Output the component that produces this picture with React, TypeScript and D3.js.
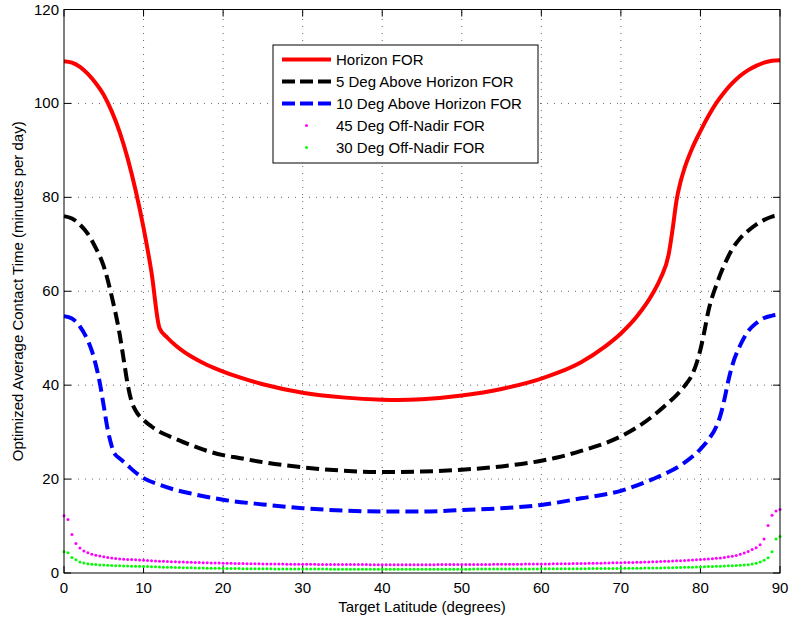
import React from "react";
import * as d3 from "d3";

const xTicks = [0, 10, 20, 30, 40, 50, 60, 70, 80, 90];
const yTicks = [0, 20, 40, 60, 80, 100, 120];

const seriesNames = [
  "Horizon FOR",
  "5 Deg Above Horizon FOR",
  "10 Deg Above Horizon FOR",
  "45 Deg Off-Nadir FOR",
  "30 Deg Off-Nadir FOR",
];

const redLat = [0, 1, 2, 3, 4, 5, 6, 7, 8, 9, 10, 11, 12, 13, 14, 15, 16, 18, 20, 22, 25, 30, 35, 40, 42, 45, 50, 55, 60, 62, 65, 68, 70, 72, 74, 75, 76, 76.5, 77, 77.5, 78, 79, 80, 81, 82, 83, 84, 85, 86, 87, 88, 89, 90];
const redVal = [109.0, 108.7, 107.8, 106.3, 104.3, 101.8, 98.3, 93.9, 88.3, 81.5, 73.5, 64.0, 52.2, 50.1, 48.5, 47.2, 46.1, 44.3, 42.9, 41.7, 40.2, 38.4, 37.4, 36.9, 36.85, 37.0, 37.8, 39.2, 41.4, 42.6, 44.9, 48.2, 51.0, 54.6, 59.5, 62.8, 67.8, 73.2, 79.4, 83.3, 86.2, 90.6, 94.1, 97.3, 100.1, 102.4, 104.3, 105.9, 107.1, 108.0, 108.7, 109.1, 109.2];

const blackLat = [0, 1, 2, 3, 4, 5, 6, 7, 7.5, 8, 8.5, 9, 10, 11, 12, 14, 16, 18, 20, 22, 25, 30, 35, 40, 45, 50, 55, 60, 62, 65, 70, 72, 74, 76, 77, 78, 79, 79.5, 80, 80.5, 81, 81.5, 82, 82.5, 83, 83.5, 84, 85, 86, 87, 88, 89, 90];
const blackVal = [76.0, 75.5, 74.2, 72.2, 69.2, 65.3, 58.9, 50.8, 45.5, 40.2, 36.5, 34.6, 32.6, 31.2, 30.1, 28.6, 27.2, 26.0, 25.1, 24.5, 23.6, 22.5, 21.8, 21.5, 21.6, 22.0, 22.7, 23.9, 24.6, 26.0, 29.1, 31.0, 33.4, 36.3, 37.9, 39.8, 42.4, 44.6, 47.6, 51.5, 55.8, 58.9, 61.3, 63.6, 65.6, 67.4, 69.0, 71.3, 72.9, 74.2, 75.2, 75.9, 76.2];

const blueLat = [0, 1, 2, 3, 3.5, 4, 4.5, 5, 5.5, 6, 6.2, 6.5, 7, 8, 9, 10, 12, 14, 16, 18, 20, 25, 30, 35, 40, 45, 50, 55, 60, 65, 70, 74, 76, 78, 80, 81, 82, 82.5, 83, 83.5, 84, 85, 86, 87, 88, 89, 90];
const blueVal = [54.7, 54.2, 52.5, 49.5, 47.3, 44.3, 40.5, 35.5, 30.5, 27.0, 25.9, 25.1, 24.4, 22.9, 21.4, 20.2, 18.8, 17.7, 16.9, 16.2, 15.6, 14.6, 13.8, 13.3, 13.1, 13.1, 13.4, 13.8, 14.5, 15.9, 17.5, 20.0, 21.5, 23.5, 26.4, 28.4, 31.2, 33.5, 36.9, 40.9, 44.2, 48.5, 51.5, 53.2, 54.3, 54.8, 55.1];

// dot series sampled every 0.5 degrees from 0 to 90
const magentaVal = [
  12.2, 11.4, 8.2, 6.3, 5.3, 4.7, 4.3, 4.0, 3.8, 3.6, 3.45, 3.3, 3.2, 3.1, 3.0, 2.95, 2.9, 2.85, 2.8, 2.75, 2.7,
  2.65, 2.6, 2.56, 2.52, 2.48, 2.45, 2.42, 2.39, 2.36, 2.33, 2.3, 2.27, 2.25, 2.22, 2.2, 2.18, 2.15, 2.13, 2.11, 2.09,
  2.07, 2.05, 2.03, 2.02, 2.0, 1.99, 1.97, 1.96, 1.95, 1.94, 1.93, 1.92, 1.91, 1.9, 1.89, 1.88, 1.87, 1.87, 1.86, 1.85,
  1.85, 1.84, 1.84, 1.83, 1.83, 1.82, 1.82, 1.81, 1.81, 1.8, 1.8, 1.8, 1.79, 1.79, 1.79, 1.79, 1.78, 1.78, 1.78, 1.78,
  1.78, 1.78, 1.78, 1.78, 1.78, 1.78, 1.78, 1.78, 1.78, 1.78, 1.78, 1.78, 1.78, 1.79, 1.79, 1.79, 1.79, 1.8, 1.8, 1.8,
  1.81, 1.81, 1.81, 1.82, 1.82, 1.83, 1.83, 1.84, 1.84, 1.85, 1.85, 1.86, 1.87, 1.87, 1.88, 1.89, 1.89, 1.9, 1.91, 1.92,
  1.93, 1.94, 1.95, 1.96, 1.97, 1.98, 1.99, 2.0, 2.01, 2.02, 2.04, 2.05, 2.07, 2.08, 2.1, 2.12, 2.14, 2.16, 2.18, 2.2,
  2.22, 2.24, 2.26, 2.28, 2.31, 2.33, 2.36, 2.39, 2.42, 2.45, 2.48, 2.52, 2.55, 2.59, 2.63, 2.67, 2.71, 2.76, 2.81, 2.86,
  2.92, 2.98, 3.05, 3.13, 3.22, 3.32, 3.44, 3.58, 3.75, 4.0, 4.28, 4.6, 5.0, 5.4, 6.0, 7.25, 10.1, 12.3, 13.2, 13.5,
];

const greenVal = [
  4.5, 4.3, 3.3, 2.8, 2.35, 2.12, 1.97, 1.87, 1.79, 1.73, 1.68, 1.63, 1.59, 1.56, 1.53, 1.5, 1.48, 1.46, 1.44, 1.42, 1.4,
  1.37, 1.34, 1.31, 1.28, 1.25, 1.22, 1.2, 1.18, 1.16, 1.14, 1.12, 1.1, 1.08, 1.06, 1.04, 1.02, 1.01, 1.0, 0.99, 0.98,
  0.97, 0.96, 0.95, 0.94, 0.93, 0.92, 0.91, 0.9, 0.9, 0.89, 0.88, 0.88, 0.87, 0.87, 0.86, 0.86, 0.85, 0.85, 0.85, 0.84,
  0.84, 0.84, 0.83, 0.83, 0.83, 0.83, 0.82, 0.82, 0.82, 0.82, 0.82, 0.81, 0.81, 0.81, 0.81, 0.81, 0.81, 0.81, 0.81, 0.81,
  0.81, 0.81, 0.81, 0.81, 0.81, 0.81, 0.81, 0.81, 0.81, 0.81, 0.81, 0.81, 0.81, 0.81, 0.81, 0.81, 0.81, 0.82, 0.82, 0.82,
  0.82, 0.82, 0.83, 0.83, 0.83, 0.83, 0.84, 0.84, 0.84, 0.84, 0.85, 0.85, 0.85, 0.86, 0.86, 0.86, 0.87, 0.87, 0.87, 0.88,
  0.88, 0.89, 0.89, 0.9, 0.9, 0.91, 0.91, 0.92, 0.92, 0.93, 0.93, 0.94, 0.94, 0.95, 0.95, 0.96, 0.96, 0.97, 0.97, 0.98,
  0.99, 1.0, 1.01, 1.02, 1.03, 1.04, 1.05, 1.06, 1.07, 1.09, 1.1, 1.12, 1.14, 1.16, 1.18, 1.2, 1.22, 1.24, 1.27, 1.3,
  1.33, 1.36, 1.39, 1.42, 1.46, 1.5, 1.53, 1.56, 1.6, 1.63, 1.7, 1.78, 1.92, 2.06, 2.35, 2.7, 3.27, 4.55, 7.25, 7.75,
];

const W = 790;
const H = 624;
const L = 64;
const R = 780;
const T = 9.5;
const B = 573;
const FONT = "'Liberation Sans', Arial, Helvetica, sans-serif";

export default function App() {
  const x = d3.scaleLinear().domain([0, 90]).range([L, R]);
  const y = d3.scaleLinear().domain([0, 120]).range([B, T]);
  const line = d3
    .line<[number, number]>()
    .x((d) => x(d[0]))
    .y((d) => y(d[1]))
    .curve(d3.curveMonotoneX);

  const redPts = redLat.map((l, i) => [l, redVal[i]] as [number, number]);
  const blackPts = blackLat.map((l, i) => [l, blackVal[i]] as [number, number]);
  const bluePts = blueLat.map((l, i) => [l, blueVal[i]] as [number, number]);
  const dotLat = magentaVal.map((_, i) => i * 0.5);

  const tickLen = 7;
  const gridStyle = { stroke: "#666", strokeWidth: 1, strokeDasharray: "1,6" };

  const legX = 273;
  const legY = 45;
  const legW = 265;
  const legH = 118;
  const rowY = [59.5, 81.5, 103.5, 125.5, 147.5];

  return (
    <svg
      width={W}
      height={H}
      style={{ position: "absolute", left: 0, top: 0, background: "#fff" }}
      fontFamily={FONT}
    >
      <rect x={0} y={0} width={W} height={H} fill="#fff" />
      {/* grid */}
      {xTicks.slice(1, -1).map((t) => (
        <line key={"gx" + t} x1={x(t)} x2={x(t)} y1={B} y2={T} style={gridStyle} />
      ))}
      {yTicks.slice(1, -1).map((t) => (
        <line key={"gy" + t} x1={L} x2={R} y1={y(t)} y2={y(t)} style={gridStyle} />
      ))}
      {/* ticks */}
      {xTicks.map((t) => (
        <g key={"tx" + t}>
          <line x1={x(t)} x2={x(t)} y1={B} y2={B - tickLen} stroke="#000" />
          <line x1={x(t)} x2={x(t)} y1={T} y2={T + tickLen} stroke="#000" />
          <text x={x(t)} y={593} fontSize={15} textAnchor="middle" fill="#000">
            {t}
          </text>
        </g>
      ))}
      {yTicks.map((t) => (
        <g key={"ty" + t}>
          <line x1={L} x2={L + tickLen} y1={y(t)} y2={y(t)} stroke="#000" />
          <line x1={R} x2={R - tickLen} y1={y(t)} y2={y(t)} stroke="#000" />
          <text x={59} y={y(t) + 5} fontSize={15} textAnchor="end" fill="#000">
            {t}
          </text>
        </g>
      ))}
      {/* series */}
      <path d={line(redPts) || ""} fill="none" stroke="#ff0000" strokeWidth={4} strokeLinejoin="round" />
      <path d={line(blackPts) || ""} fill="none" stroke="#000" strokeWidth={4} strokeDasharray="13,6" />
      <path d={line(bluePts) || ""} fill="none" stroke="#0000ff" strokeWidth={4} strokeDasharray="13,6" />
      {magentaVal.map((v, i) => (
        <circle key={"m" + i} cx={x(dotLat[i])} cy={y(v)} r={1.5} fill="#ff00ff" />
      ))}
      {greenVal.map((v, i) => (
        <circle key={"g" + i} cx={x(dotLat[i])} cy={y(v)} r={1.5} fill="#00ff00" />
      ))}
      {/* frame */}
      <rect x={L} y={T} width={R - L} height={B - T} fill="none" stroke="#000" strokeWidth={1} />
      {/* axis labels */}
      <text x={(L + R) / 2} y={612} fontSize={15} textAnchor="middle" fill="#000">
        Target Latitude (degrees)
      </text>
      <text
        transform={`translate(23, ${(T + B) / 2}) rotate(-90)`}
        fontSize={15}
        textAnchor="middle"
        fill="#000"
      >
        Optimized Average Contact Time (minutes per day)
      </text>
      {/* legend */}
      <rect x={legX} y={legY} width={legW} height={legH} fill="#fff" stroke="#000" strokeWidth={1} />
      {seriesNames.map((name, i) => {
        const ry = rowY[i];
        let sample: React.ReactNode = null;
        if (i === 0) sample = <line x1={282} x2={331} y1={ry} y2={ry} stroke="#ff0000" strokeWidth={4} />;
        else if (i === 1)
          sample = <line x1={282} x2={331} y1={ry} y2={ry} stroke="#000" strokeWidth={4} strokeDasharray="13,5" />;
        else if (i === 2)
          sample = <line x1={282} x2={331} y1={ry} y2={ry} stroke="#0000ff" strokeWidth={4} strokeDasharray="13,5" />;
        else if (i === 3) sample = <circle cx={306.5} cy={ry} r={1.5} fill="#ff00ff" />;
        else sample = <circle cx={306.5} cy={ry} r={1.5} fill="#00ff00" />;
        return (
          <g key={"leg" + i}>
            {sample}
            <text x={336} y={ry + 5} fontSize={15} fill="#000">
              {name}
            </text>
          </g>
        );
      })}
    </svg>
  );
}
